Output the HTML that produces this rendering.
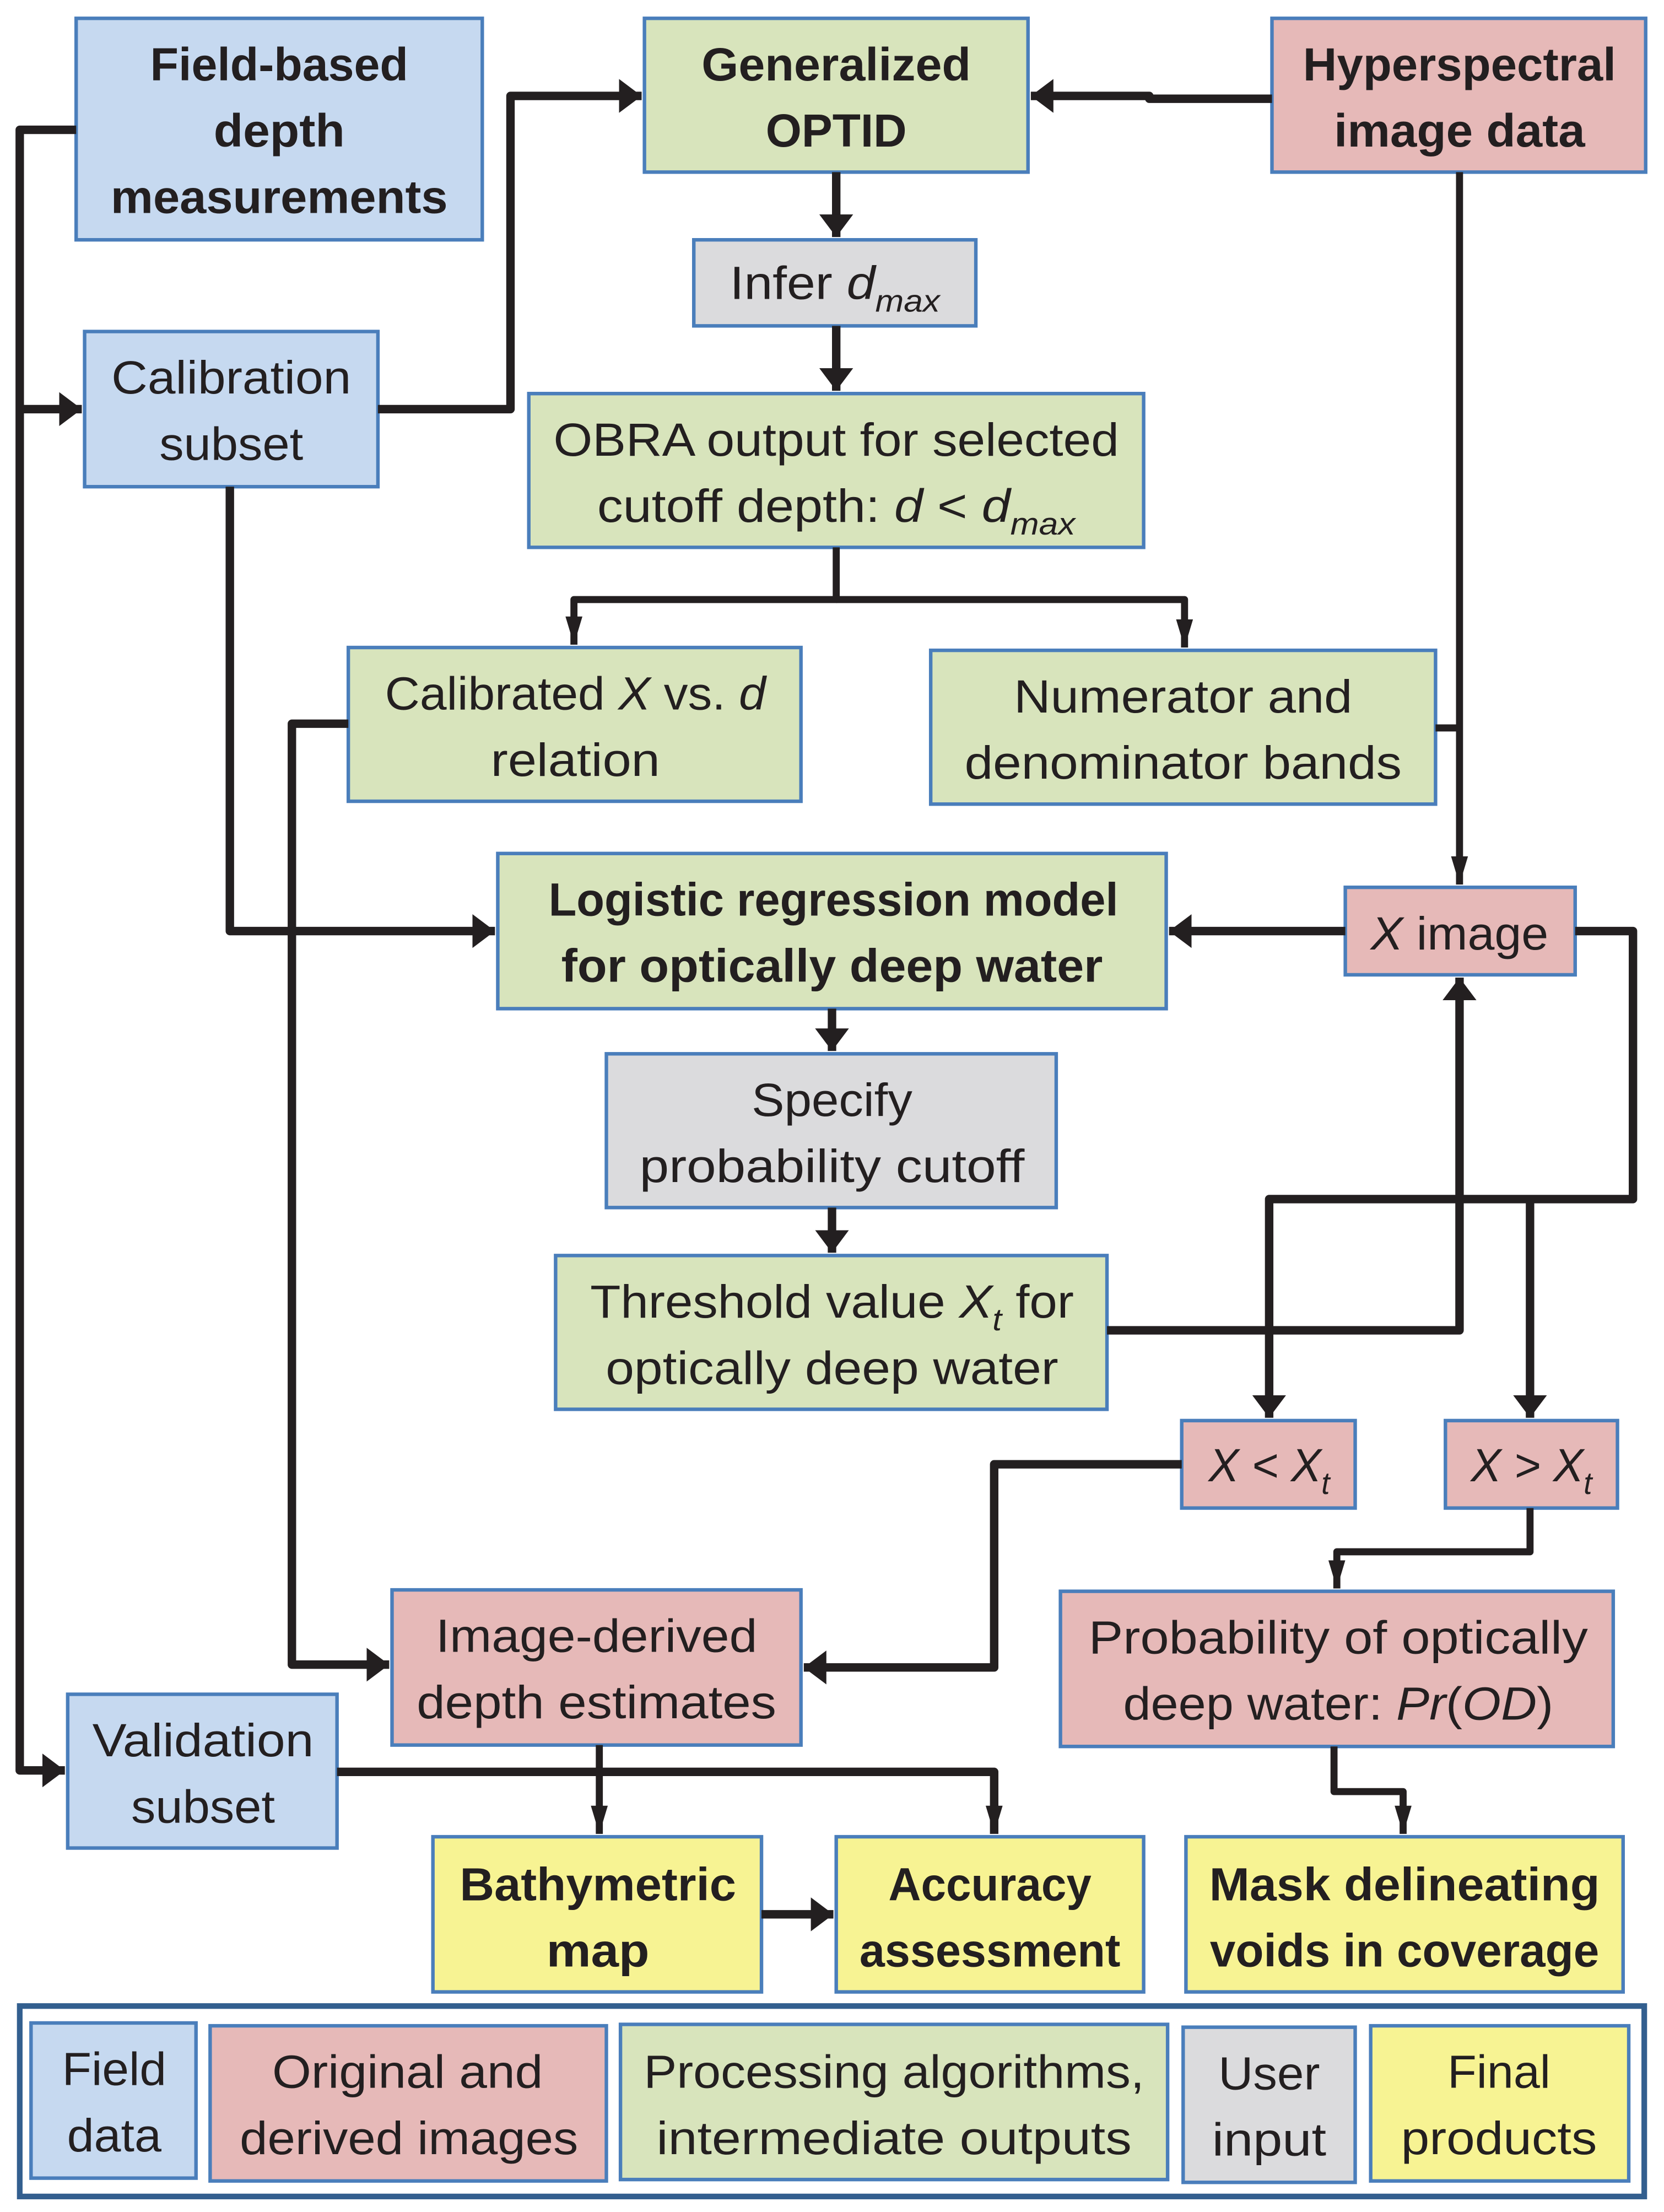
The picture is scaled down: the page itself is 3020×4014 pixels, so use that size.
<!DOCTYPE html>
<html><head><meta charset="utf-8"><style>html,body{margin:0;padding:0;background:#fff}svg{display:block}</style></head><body>
<svg xmlns="http://www.w3.org/2000/svg" width="3020" height="4014" viewBox="0 0 1180 1568" preserveAspectRatio="none">
<defs>
<marker id="a" markerUnits="userSpaceOnUse" markerWidth="26" markerHeight="26" refX="16" refY="12" orient="auto"><path d="M0,0 L16,12 L0,24 Z" fill="#231f20"/></marker>
<marker id="n" markerUnits="userSpaceOnUse" markerWidth="24" markerHeight="24" refX="20" refY="6" orient="auto"><path d="M0,0 L20,6 L0,12 Z" fill="#231f20"/></marker>
</defs>
<g font-family="Liberation Sans, sans-serif" font-size="33" fill="#231f20" text-anchor="middle">
<g stroke="#4a7ebb" stroke-width="2.5">
<rect x="54" y="13" width="288" height="157" fill="#c6d9f0"/>
<rect x="457" y="13" width="272" height="109" fill="#d8e4bc"/>
<rect x="902" y="13" width="265" height="109" fill="#e6b9b8"/>
<rect x="492" y="170" width="200" height="61" fill="#dbdbdd"/>
<rect x="60" y="235" width="208" height="110" fill="#c6d9f0"/>
<rect x="375" y="279" width="436" height="109" fill="#d8e4bc"/>
<rect x="247" y="459" width="321" height="109" fill="#d8e4bc"/>
<rect x="660" y="461" width="358" height="109" fill="#d8e4bc"/>
<rect x="353" y="605" width="474" height="110" fill="#d8e4bc"/>
<rect x="954" y="629" width="163" height="62" fill="#e6b9b8"/>
<rect x="430" y="747" width="319" height="109" fill="#dbdbdd"/>
<rect x="394" y="890" width="391" height="109" fill="#d8e4bc"/>
<rect x="838" y="1007" width="123" height="62" fill="#e6b9b8"/>
<rect x="1025" y="1007" width="122" height="62" fill="#e6b9b8"/>
<rect x="278" y="1127" width="290" height="110" fill="#e6b9b8"/>
<rect x="752" y="1128" width="392" height="110" fill="#e6b9b8"/>
<rect x="48" y="1201" width="191" height="109" fill="#c6d9f0"/>
<rect x="307" y="1302" width="233" height="110" fill="#f7f393"/>
<rect x="593" y="1302" width="218" height="110" fill="#f7f393"/>
<rect x="841" y="1302" width="310" height="110" fill="#f7f393"/>
<rect x="22" y="1434" width="117" height="110" fill="#c6d9f0"/>
<rect x="149" y="1436" width="281" height="110" fill="#e6b9b8"/>
<rect x="440" y="1435" width="388" height="110" fill="#d8e4bc"/>
<rect x="839" y="1437" width="122" height="110" fill="#dbdbdd"/>
<rect x="972" y="1436" width="183" height="110" fill="#f7f393"/>
</g>
<rect x="14" y="1422" width="1152" height="135" fill="none" stroke="#335f8f" stroke-width="4"/>

<g fill="none" stroke="#231f20" stroke-width="6" stroke-linejoin="round">
<path d="M54,92 H14 V1255 H46" marker-end="url(#a)"/>
<path d="M14,290 H58" marker-end="url(#a)"/>
<path d="M268,290 H362 V68 H455" marker-end="url(#a)"/>
<path d="M902,70 H815 V68 H731" marker-end="url(#a)"/>
<path d="M593,122 V168" marker-end="url(#a)"/>
<path d="M593,231 V277" marker-end="url(#a)"/>
<path d="M593,388 V425 H407 V457" stroke-width="5" marker-end="url(#n)"/>
<path d="M593,425 H840 V459" stroke-width="5" marker-end="url(#n)"/>
<path d="M1035,122 V627" stroke-width="5" marker-end="url(#n)"/>
<path d="M1018,516 H1035" stroke-width="5"/>
<path d="M163,345 V660 H351" marker-end="url(#a)"/>
<path d="M954,660 H829" marker-end="url(#a)"/>
<path d="M590,715 V745" marker-end="url(#a)"/>
<path d="M590,856 V888" marker-end="url(#a)"/>
<path d="M785,943 H1035 V693" marker-end="url(#a)"/>
<path d="M1117,660 H1158 V850 H900 V1005" marker-end="url(#a)"/>
<path d="M1085,850 V1005" marker-end="url(#a)"/>
<path d="M247,513 H207 V1180 H276" marker-end="url(#a)"/>
<path d="M838,1038 H705 V1182 H570" marker-end="url(#a)"/>
<path d="M1085,1069 V1100 H948 V1126" stroke-width="5" marker-end="url(#n)"/>
<path d="M425,1237 V1300" stroke-width="5" marker-end="url(#n)"/>
<path d="M239,1256 H705 V1300" marker-end="url(#n)"/>
<path d="M540,1357 H591" marker-end="url(#a)"/>
<path d="M946,1238 V1270 H995 V1300" stroke-width="5" marker-end="url(#n)"/>
</g>

<g font-weight="bold">
<text x="198" y="57" textLength="183" lengthAdjust="spacingAndGlyphs">Field-based</text>
<text x="198" y="104" textLength="93" lengthAdjust="spacingAndGlyphs">depth</text>
<text x="198" y="151" textLength="239" lengthAdjust="spacingAndGlyphs">measurements</text>
<text x="593" y="57" textLength="191" lengthAdjust="spacingAndGlyphs">Generalized</text>
<text x="593" y="104" textLength="100" lengthAdjust="spacingAndGlyphs">OPTID</text>
<text x="1035" y="57" textLength="222" lengthAdjust="spacingAndGlyphs">Hyperspectral</text>
<text x="1035" y="104" textLength="178" lengthAdjust="spacingAndGlyphs">image data</text>
<text x="591" y="649" textLength="404" lengthAdjust="spacingAndGlyphs">Logistic regression model</text>
<text x="590" y="696" textLength="384" lengthAdjust="spacingAndGlyphs">for optically deep water</text>
<text x="424" y="1347" textLength="196" lengthAdjust="spacingAndGlyphs">Bathymetric</text>
<text x="424" y="1394" textLength="73" lengthAdjust="spacingAndGlyphs">map</text>
<text x="702" y="1347" textLength="144" lengthAdjust="spacingAndGlyphs">Accuracy</text>
<text x="702" y="1394" textLength="185" lengthAdjust="spacingAndGlyphs">assessment</text>
<text x="996" y="1347" textLength="277" lengthAdjust="spacingAndGlyphs">Mask delineating</text>
<text x="996" y="1394" textLength="276" lengthAdjust="spacingAndGlyphs">voids in coverage</text>
</g>

<text x="592" y="212" textLength="149" lengthAdjust="spacingAndGlyphs">Infer <tspan font-style="italic">d</tspan><tspan font-style="italic" font-size="22" dy="9">max</tspan></text>
<text x="164" y="279" textLength="170" lengthAdjust="spacingAndGlyphs">Calibration</text>
<text x="164" y="326" textLength="102" lengthAdjust="spacingAndGlyphs">subset</text>
<text x="593" y="323" textLength="401" lengthAdjust="spacingAndGlyphs">OBRA output for selected</text>
<text x="593" y="370" textLength="339" lengthAdjust="spacingAndGlyphs">cutoff depth: <tspan font-style="italic">d</tspan> &lt; <tspan font-style="italic">d</tspan><tspan font-style="italic" font-size="22" dy="9">max</tspan></text>
<text x="408" y="503" textLength="270" lengthAdjust="spacingAndGlyphs">Calibrated <tspan font-style="italic">X</tspan> vs. <tspan font-style="italic">d</tspan></text>
<text x="408" y="550" textLength="120" lengthAdjust="spacingAndGlyphs">relation</text>
<text x="839" y="505" textLength="240" lengthAdjust="spacingAndGlyphs">Numerator and</text>
<text x="839" y="552" textLength="310" lengthAdjust="spacingAndGlyphs">denominator bands</text>
<text x="1035" y="673" textLength="126" lengthAdjust="spacingAndGlyphs"><tspan font-style="italic">X</tspan> image</text>
<text x="590" y="791" textLength="114" lengthAdjust="spacingAndGlyphs">Specify</text>
<text x="590" y="838" textLength="273" lengthAdjust="spacingAndGlyphs">probability cutoff</text>
<text x="590" y="934" textLength="343" lengthAdjust="spacingAndGlyphs">Threshold value <tspan font-style="italic">X</tspan><tspan font-style="italic" font-size="22" dy="9">t</tspan><tspan dy="-9"> for</tspan></text>
<text x="590" y="981" textLength="321" lengthAdjust="spacingAndGlyphs">optically deep water</text>
<text x="900" y="1050" textLength="86" lengthAdjust="spacingAndGlyphs" font-style="italic">X &lt; X<tspan font-size="22" dy="9">t</tspan></text>
<text x="1086" y="1050" textLength="86" lengthAdjust="spacingAndGlyphs" font-style="italic">X &gt; X<tspan font-size="22" dy="9">t</tspan></text>
<text x="423" y="1171" textLength="228" lengthAdjust="spacingAndGlyphs">Image-derived</text>
<text x="423" y="1218" textLength="255" lengthAdjust="spacingAndGlyphs">depth estimates</text>
<text x="949" y="1172" textLength="354" lengthAdjust="spacingAndGlyphs">Probability of optically</text>
<text x="949" y="1219" textLength="305" lengthAdjust="spacingAndGlyphs">deep water: <tspan font-style="italic">Pr</tspan>(<tspan font-style="italic">OD</tspan>)</text>
<text x="144" y="1245" textLength="157" lengthAdjust="spacingAndGlyphs">Validation</text>
<text x="144" y="1292" textLength="102" lengthAdjust="spacingAndGlyphs">subset</text>

<text x="81" y="1478" textLength="74" lengthAdjust="spacingAndGlyphs">Field</text>
<text x="81" y="1525" textLength="67" lengthAdjust="spacingAndGlyphs">data</text>
<text x="289" y="1480" textLength="192" lengthAdjust="spacingAndGlyphs">Original and</text>
<text x="290" y="1527" textLength="240" lengthAdjust="spacingAndGlyphs">derived images</text>
<text x="634" y="1480" textLength="355" lengthAdjust="spacingAndGlyphs">Processing algorithms,</text>
<text x="634" y="1527" textLength="337" lengthAdjust="spacingAndGlyphs">intermediate outputs</text>
<text x="900" y="1481" textLength="72" lengthAdjust="spacingAndGlyphs">User</text>
<text x="900" y="1528" textLength="81" lengthAdjust="spacingAndGlyphs">input</text>
<text x="1063" y="1480" textLength="73" lengthAdjust="spacingAndGlyphs">Final</text>
<text x="1063" y="1527" textLength="139" lengthAdjust="spacingAndGlyphs">products</text>
</g>
</svg>
</body></html>
